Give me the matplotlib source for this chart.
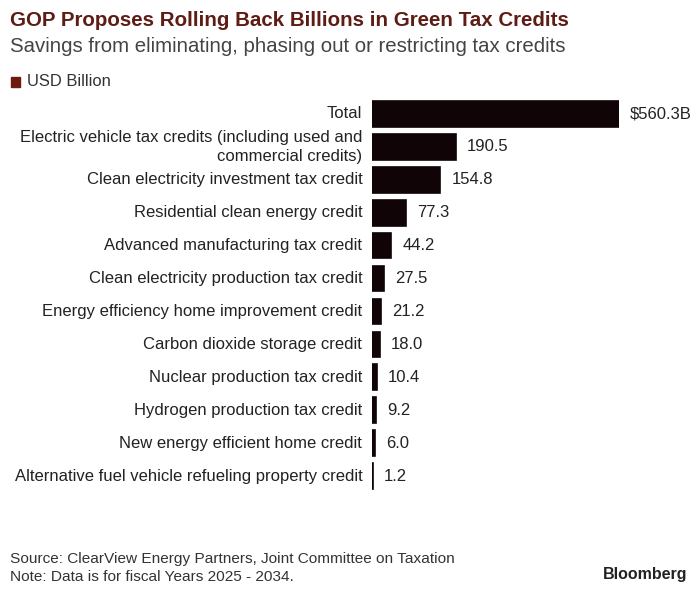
import matplotlib.pyplot as plt

plt.rcParams['font.family'] = ['Liberation Sans', 'DejaVu Sans']

# Savings in USD billion
categories = [
    'Total',
    'Electric vehicle tax credits (including used and\ncommercial credits)',
    'Clean electricity investment tax credit',
    'Residential clean energy credit',
    'Advanced manufacturing tax credit',
    'Clean electricity production tax credit',
    'Energy efficiency home improvement credit',
    'Carbon dioxide storage credit',
    'Nuclear production tax credit',
    'Hydrogen production tax credit',
    'New energy efficient home credit',
    'Alternative fuel vehicle refueling property credit',
]
values = [560.3, 190.5, 154.8, 77.3, 44.2, 27.5, 21.2, 18.0, 10.4, 9.2, 6.0, 1.2]
value_labels = ['$560.3B', '190.5', '154.8', '77.3', '44.2', '27.5', '21.2',
                '18.0', '10.4', '9.2', '6.0', '1.2']

fig = plt.figure(figsize=(6.97, 5.89), dpi=100)
ax = fig.add_axes([0.5337, 0.1638, 0.888 - 0.5337, 0.6706])

ypos = list(range(len(values)))
bar_color = '#100407'
ax.barh(ypos, values, height=0.78, color=bar_color, edgecolor=bar_color, linewidth=1.2)

ax.set_xlim(0, 560.3)
ax.set_ylim(len(values) - 0.5, -0.5)
ax.axis('off')

for y, v, lab, cat in zip(ypos, values, value_labels, categories):
    ax.annotate(lab, (v, y), xytext=(8, 0), textcoords='offset points',
                ha='left', va='center', fontsize=12, color='#222222')
    ax.annotate(cat, (0, y), xytext=(-7, 0), textcoords='offset points',
                ha='right', va='center', fontsize=12, color='#222222',
                multialignment='right', linespacing=1.35)

# header
fig.text(10 / 697, 1 - 20 / 589, 'GOP Proposes Rolling Back Billions in Green Tax Credits',
         fontsize=14.8, fontweight='bold', color='#5e1d14', va='center', ha='left')
fig.text(10 / 697, 1 - 46 / 589, 'Savings from eliminating, phasing out or restricting tax credits',
         fontsize=14.7, color='#444444', va='center', ha='left')
fig.patches.append(plt.Rectangle((11 / 697, 1 - 87 / 589), 9 / 697, 10 / 589,
                                 transform=fig.transFigure, color='#6e1a10'))
fig.text(27 / 697, 1 - 82 / 589, 'USD Billion', fontsize=11.9, color='#333333',
         va='center', ha='left')

# footer
fig.text(10 / 697, 1 - 559 / 589, 'Source: ClearView Energy Partners, Joint Committee on Taxation',
         fontsize=11.1, color='#333333', va='center', ha='left')
fig.text(10 / 697, 1 - 577 / 589, 'Note: Data is for fiscal Years 2025 - 2034.',
         fontsize=11.1, color='#333333', va='center', ha='left')
fig.text(687 / 697, 1 - 574 / 589, 'Bloomberg', fontsize=11.5, fontweight='bold',
         color='#222222', va='center', ha='right')

fig.savefig('out.png', dpi=100)
